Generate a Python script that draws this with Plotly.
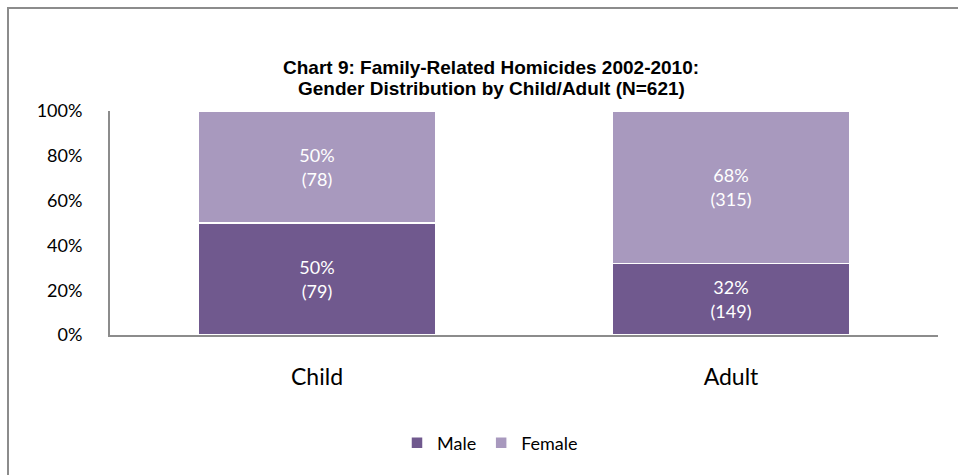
import plotly.graph_objects as go

# data
groups = ["Child", "Adult"]
male_pct = [50, 32]
female_pct = [50, 68]
male_n = [79, 149]
female_n = [78, 315]
y_ticks = [0, 20, 40, 60, 80, 100]
title_lines = ["Chart 9: Family-Related Homicides 2002-2010:",
               "Gender Distribution by Child/Adult (N=621)"]

W, H = 958, 475
L, R, T, B = 110, 20, 111, 140
pw, ph = W - L - R, H - T - B

def px_x(x):
    return (x - L) / pw

def px_y(y):
    return (H - B - y) / ph

male_txt = [f"{p}%<br>({n})" for p, n in zip(male_pct, male_n)]
female_txt = [f"{p}%<br>({n})" for p, n in zip(female_pct, female_n)]

fig = go.Figure()
fig.add_trace(go.Bar(x=groups, y=male_pct, name="Male", text=male_txt,
                     marker=dict(color="#70598E", line=dict(color="white", width=1.5))))
fig.add_trace(go.Bar(x=groups, y=female_pct, name="Female", text=female_txt,
                     marker=dict(color="#A899BE", line=dict(color="white", width=1.5))))
fig.update_traces(textposition="inside", insidetextanchor="middle",
                  textfont=dict(family="Lato", size=18, color="white"),
                  hoverinfo="skip")

# two title lines as annotations so the line spacing can follow the original
for line, ypix in zip(title_lines, [68, 88]):
    fig.add_annotation(text=line, xref="paper", yref="paper", x=px_x(491), y=px_y(ypix),
                       xanchor="center", yanchor="middle", showarrow=False,
                       font=dict(family="Liberation Sans", size=19, color="black", weight="bold"))

fig.update_layout(
    width=W, height=H,
    margin=dict(l=L, r=R, t=T, b=B),
    paper_bgcolor="white", plot_bgcolor="white",
    barmode="stack", bargap=0.428,
    font=dict(family="Lato", color="black"),
    legend=dict(orientation="h", x=px_x(490), xanchor="center", y=px_y(443), yanchor="middle",
                font=dict(family="Lato", size=18), itemwidth=30, traceorder="normal"),
    xaxis=dict(showline=True, linecolor="#8C8C8C", linewidth=2, showgrid=False,
               tickfont=dict(family="Lato", size=23), ticks="", ticklabelstandoff=20),
    yaxis=dict(range=[0, 100], tickmode="array", tickvals=y_ticks,
               ticktext=[f"{v}%" for v in y_ticks],
               showline=True, linecolor="#8C8C8C", linewidth=2, showgrid=False, zeroline=False,
               tickfont=dict(family="Lato", size=18), ticks="", ticklabelstandoff=22),
    shapes=[dict(type="rect", xref="paper", yref="paper",
                 x0=px_x(8), x1=px_x(990), y0=px_y(8), y1=px_y(520),
                 line=dict(color="#8C8C8C", width=2), layer="below")],
)

fig.write_html("out.html", config={"displayModeBar": False},
               post_script="document.body.style.margin='0px';")
